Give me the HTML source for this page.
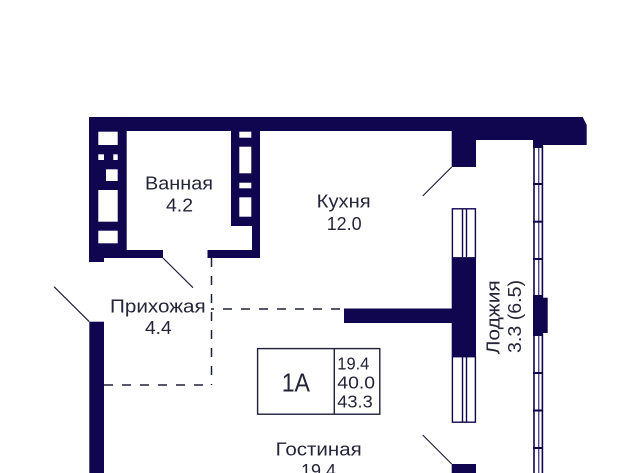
<!DOCTYPE html>
<html><head><meta charset="utf-8"><style>
html,body{margin:0;padding:0;background:#fff;width:640px;height:473px;overflow:hidden}
svg{display:block}
text{font-family:"Liberation Sans",sans-serif;fill:#25253a;font-size:18.5px}
</style></head><body>
<svg width="640" height="473" viewBox="0 0 640 473" xmlns="http://www.w3.org/2000/svg">
<rect width="640" height="473" fill="#fff"/>
<g fill="#10054f">
<!-- top wall -->
<path d="M89 117H582.7L586.7 125V145H543V148H533V140H476V167H451.7V131H89Z"/>
<!-- left block -->
<path d="M89 117H126.7V250H163V258H104V262H89Z"/>
<!-- right block -->
<path d="M231 125H260V258H207.5V250H252V226H231Z"/>
<!-- lower left wall -->
<rect x="89.3" y="321.7" width="14.7" height="152"/>
<!-- partition -->
<rect x="344" y="308.5" width="108" height="14.5"/>
<rect x="451.7" y="257.7" width="24.3" height="99"/>
<rect x="451.7" y="464" width="24.3" height="10"/>
<!-- loggia block -->
<rect x="533" y="295" width="10" height="41"/>
<rect x="543" y="297.7" width="4.7" height="35.3"/>
<!-- loggia bars -->
<rect x="533" y="183" width="10" height="2"/>
<rect x="533" y="220.7" width="10" height="2"/>
<rect x="533" y="258" width="10" height="2"/>
<rect x="533" y="372" width="10" height="2"/>
<rect x="533" y="409.5" width="10" height="2"/>
<rect x="533" y="447" width="10" height="2"/>
</g>
<g fill="#fff">
<rect x="98.3" y="131.7" width="19.4" height="13.3"/>
<rect x="98.3" y="154.3" width="5.7" height="5.7"/>
<rect x="113.3" y="154.3" width="4.4" height="5.7"/>
<rect x="106" y="169.3" width="11.7" height="11.7"/>
<rect x="98.3" y="190" width="19.4" height="31.7"/>
<rect x="98.3" y="230.7" width="19.4" height="12.6"/>
<rect x="239.3" y="131.7" width="12" height="6"/>
<rect x="239.3" y="146.7" width="12" height="26.6"/>
<rect x="239.3" y="182.7" width="12" height="5.6"/>
<rect x="239.3" y="197.3" width="12" height="19.4"/>
</g>
<g fill="none" stroke="#10054f" stroke-width="1.4">
<rect x="452.4" y="208.8" width="23" height="49"/>
<rect x="452.4" y="356.7" width="23" height="65.5"/>
<path d="M462.5 209V257M466.5 209V257M462.5 357V422M466.5 357V422"/>
<path d="M534 146V473M542.4 146V473" stroke-width="1.6"/>
<path d="M538.8 146V295M538.8 336V473" stroke-width="1"/>
<rect x="257.6" y="348.6" width="122.2" height="65.6" stroke="#20203a"/>
<path d="M334.3 348.6V414.2" stroke="#20203a"/>
</g>
<g fill="none" stroke="#20203a" stroke-width="1.2">
<path d="M451.7 167L422.7 196"/>
<path d="M422.7 435L451.7 464"/>
<path d="M54 286.7L89.3 321.7"/>
<path d="M163 258L193 287.7"/>
</g>
<g fill="none" stroke="#20203a" stroke-width="1.5" stroke-dasharray="9 9">
<path d="M211.5 258V385"/>
<path d="M104 385H211.5"/>
<path d="M211 309H344" stroke-dashoffset="6"/>
</g>
<text x="145" y="189.3" textLength="68" lengthAdjust="spacingAndGlyphs">Ванная</text>
<text x="166" y="211.7" textLength="27" lengthAdjust="spacingAndGlyphs">4.2</text>
<text x="316.7" y="207.7" textLength="54" lengthAdjust="spacingAndGlyphs">Кухня</text>
<text x="326.7" y="230" textLength="35" lengthAdjust="spacingAndGlyphs">12.0</text>
<text x="110" y="312.3" textLength="95.7" lengthAdjust="spacingAndGlyphs">Прихожая</text>
<text x="145" y="334" textLength="26.7" lengthAdjust="spacingAndGlyphs">4.4</text>
<text x="281.7" y="391.7" textLength="28.3" lengthAdjust="spacingAndGlyphs" style="font-size:26px">1А</text>
<text x="337.3" y="369.3" textLength="32" lengthAdjust="spacingAndGlyphs" style="font-size:17.5px">19.4</text>
<text x="337.3" y="388.3" textLength="37.7" lengthAdjust="spacingAndGlyphs" style="font-size:17.5px">40.0</text>
<text x="337.3" y="407.3" textLength="35.4" lengthAdjust="spacingAndGlyphs" style="font-size:17.5px">43.3</text>
<text x="275.7" y="455.7" textLength="86" lengthAdjust="spacingAndGlyphs">Гостиная</text>
<text x="301" y="477" textLength="35" lengthAdjust="spacingAndGlyphs">19.4</text>
<text transform="translate(499.3 354.3) rotate(-90)" textLength="74" lengthAdjust="spacingAndGlyphs">Лоджия</text>
<text transform="translate(521 353) rotate(-90)" textLength="73" lengthAdjust="spacingAndGlyphs">3.3 (6.5)</text>
</svg>
</body></html>
